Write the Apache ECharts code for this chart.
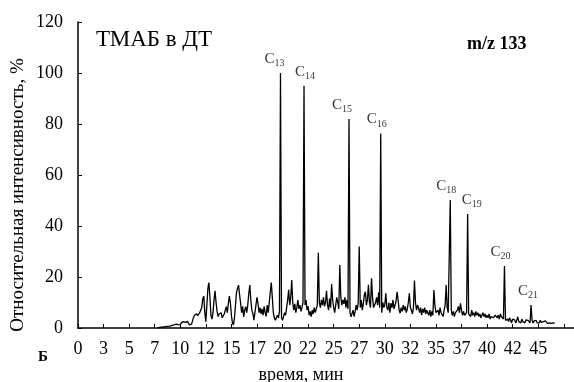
<!DOCTYPE html>
<html>
<head>
<meta charset="utf-8">
<script src="https://cdn.jsdelivr.net/npm/echarts@6/dist/echarts.min.js"></script>
<style>
html,body{margin:0;padding:0;background:#fff;}
#chart{width:574px;height:382px;}
</style>
</head>
<body>
<div id="chart"></div>
<script>
// Sampling grid of the chromatogram (minutes)
const startTime = 7.8;
const timeStep = 0.1;
// Relative intensity, % (one row per minute)
const intensity = [
  0, 0.1,
  0.2, 0.1, 0.3, 0.2, 0.4, 0.3, 0.5, 0.3, 0.6, 0.4,          // 8
  0.7, 0.5, 1.0, 0.6, 1.2, 0.8, 1.5, 0.9, 1.3, 1.8,          // 9
  1.2, 2.0, 1.5, 2.5, 2.9, 2.2, 1.8, 2.6, 1.9, 1.2,          // 10
  0.8, 1.5, 2.8, 4.2, 5.0, 4.4, 5.6, 4.8, 5.2, 6.0,          // 11
  5.5, 8.0, 11.5, 12.5, 6.0, 2.5, 9.0, 15.5, 17.8, 12.0,     // 12
  5.0, 3.5, 6.0, 11.0, 14.6, 10.0, 6.5, 4.5, 5.5, 4.8,       // 13
  6.0, 4.0, 3.8, 5.5, 7.0, 8.4, 6.0, 9.5, 12.5, 10.0,        // 14
  5.0, 2.0, 1.2, 4.0, 9.0, 14.0, 15.6, 16.8, 13.0, 9.7,      // 15
  6.0, 8.5, 4.4, 7.0, 8.4, 6.0, 9.0, 13.5, 16.8, 11.0,       // 16
  7.0, 5.7, 3.1, 6.0, 9.0, 12.0, 9.7, 6.0, 8.0, 5.5,         // 17
  7.5, 5.0, 8.5, 6.0, 4.5, 9.0, 6.0, 10.0, 14.0, 17.8,       // 18
  12.0, 6.0, 4.0, 3.0, 3.5, 5.0, 4.0, 6.5, 100, 4.0,         // 19
  3.0, 4.5, 6.0, 5.0, 8.0, 11.0, 15.0, 9.0, 12.0, 18.8,      // 20
  10.0, 7.0, 9.5, 6.0, 8.0, 11.0, 7.5, 9.0, 6.5, 8.0,        // 21
  10.0, 95, 9.0, 11.0, 7.0, 8.5, 5.0, 6.5, 4.5, 7.0,         // 22
  5.5, 8.0, 6.0, 7.5, 9.0, 29.5, 10.0, 8.0, 11.0, 9.0,       // 23
  12.0, 8.5, 10.0, 14.6, 9.0, 7.0, 11.5, 8.0, 17.2, 11.0,    // 24
  8.0, 6.0, 9.0, 12.0, 10.0, 7.5, 24.7, 12.0, 9.0, 11.0,     // 25
  9.5, 12.0, 8.0, 11.0, 7.5, 82, 6.0, 4.4, 5.0, 7.0,         // 26
  4.5, 6.5, 9.0, 7.0, 10.0, 32.0, 8.0, 11.0, 7.0, 9.5,       // 27
  13.0, 14.2, 9.0, 11.0, 16.9, 10.0, 8.0, 19.5, 12.0, 8.0,   // 28
  7.8, 10.0, 12.0, 9.0, 14.0, 8.0, 76.3, 6.0, 10.0, 8.0,     // 29
  9.0, 13.6, 8.0, 7.0, 10.0, 6.0, 9.7, 8.0, 11.0, 7.5,       // 30
  9.0, 10.5, 14.2, 11.0, 7.0, 5.8, 8.0, 6.5, 9.0, 7.0,       // 31
  8.5, 6.0, 7.5, 10.0, 13.6, 8.0, 7.0, 5.5, 8.0, 18.6,       // 32
  10.0, 7.0, 9.0, 7.8, 6.0, 8.0, 5.0, 7.5, 6.0, 8.0,         // 33
  5.5, 7.0, 6.0, 5.0, 7.0, 4.5, 6.5, 5.0, 14.9, 9.0,         // 34
  6.0, 5.5, 7.0, 5.0, 8.0, 6.0, 6.5, 4.5, 7.0, 9.0,          // 35
  16.9, 8.0, 6.0, 5.5, 50.2, 7.0, 5.0, 6.5, 4.5, 6.0,        // 36
  5.5, 7.0, 8.5, 6.0, 9.7, 7.0, 5.0, 6.5, 5.0, 4.5,          // 37
  6.0, 44.7, 5.5, 6.0, 4.5, 7.0, 5.0, 6.0, 4.5, 6.5,         // 38
  5.0, 6.0, 4.5, 5.5, 4.0, 5.0, 6.0, 4.5, 5.5, 4.0,          // 39
  5.0, 4.0, 5.5, 3.5, 4.5, 5.0, 4.0, 3.5, 5.0, 4.5,          // 40
  4.0, 5.0, 3.5, 5.5, 4.5, 4.0, 3.5, 24.3, 3.0, 2.5,         // 41
  3.5, 2.5, 4.0, 3.0, 2.0, 3.5, 2.8, 3.2, 2.0, 3.0,          // 42
  4.4, 2.5, 3.0, 2.0, 3.5, 2.5, 3.0, 2.0, 3.2, 2.5,          // 43
  3.0, 2.5, 2.0, 9.0, 3.0, 2.0, 2.8, 2.2, 3.0, 2.0,          // 44
  2.5, 2.0, 3.0, 2.2, 1.8, 2.5, 2.0, 2.8, 2.2, 1.8,          // 45
  2.5, 2.0, 2.2, 1.8, 2.5, 2.0, 1.8                          // 46
];
// Labelled peaks: name subscript and retention time (min)
const peakNames = ['13', '14', '15', '16', '18', '19', '20', '21'];
const peakTimes = [19.8, 22.1, 26.5, 29.6, 36.4, 38.1, 41.7, 44.3];
// Axis tick labels (every 2.5 min)
const xTickLabels = ['0', '3', '5', '7', '10', '12', '15', '17', '20', '22', '25', '27', '30', '32', '35', '37', '40', '42', '45', ''];
const yTicks = [0, 20, 40, 60, 80, 100, 120];

const FONT = '"Liberation Serif", "Times New Roman", serif';

const lineData = intensity.map((v, i) => [+(startTime + i * timeStep).toFixed(2), v]);
function valueAt(t) {
  const i = Math.round((t - startTime) / timeStep);
  return intensity[i];
}
const labelOffsets = [[-6, 0], [1, 0], [-7, 0], [-4, 0], [-4, 0], [4, 0], [-4, 0], [-3, 0]];
const peakData = peakTimes.map((t, i) => ({
  value: [t, valueAt(t)],
  label: { formatter: '{c|C}{s|' + peakNames[i] + '}', offset: labelOffsets[i] }
}));

const chart = echarts.init(document.getElementById('chart'), null, { renderer: 'canvas' });
chart.setOption({
  animation: false,
  backgroundColor: '#fff',
  grid: { left: 78, right: 0, top: 22, bottom: 54, containLabel: false },
  xAxis: {
    type: 'value', min: 0, max: 48.5, interval: 2.5,
    axisLine: { lineStyle: { color: '#000', width: 1.5 } },
    axisTick: { inside: true, length: 4, lineStyle: { color: '#000', width: 1 } },
    axisLabel: {
      margin: 12, color: '#000', fontFamily: FONT, fontSize: 18,
      formatter: (v) => { const k = Math.round(v / 2.5); return xTickLabels[k] !== undefined ? xTickLabels[k] : ''; },
      showMaxLabel: false
    },
    splitLine: { show: false }
  },
  yAxis: {
    type: 'value', min: yTicks[0], max: yTicks[yTicks.length - 1], interval: 20,
    axisLine: { show: true, lineStyle: { color: '#000', width: 1.5 } },
    axisTick: { show: true, inside: true, length: 4, lineStyle: { color: '#000', width: 1 } },
    axisLabel: { margin: 15, color: '#000', fontFamily: FONT, fontSize: 18 },
    splitLine: { show: false }
  },
  series: [
    {
      type: 'line', data: lineData, showSymbol: false, symbol: 'none',
      lineStyle: { color: '#000', width: 1.3 }, z: 2
    },
    {
      type: 'scatter', data: peakData, symbolSize: 0, z: 3,
      label: {
        show: true, position: 'top', distance: 6,
        rich: {
          c: { fontFamily: FONT, fontSize: 15, color: '#000', lineHeight: 16 },
          s: { fontFamily: FONT, fontSize: 10, color: '#000', lineHeight: 16, padding: [9, 0, 0, 0] }
        }
      }
    }
  ],
  graphic: [
    { type: 'text', left: 96, top: 28, style: { text: 'ТМАБ в ДТ', fontFamily: FONT, fontSize: 23, fill: '#000' } },
    { type: 'text', left: 467, top: 35, style: { text: 'm/z 133', fontFamily: FONT, fontSize: 18, fontWeight: 'bold', fill: '#000' } },
    { type: 'text', x: 18, y: 195, rotation: Math.PI / 2,
      style: { text: 'Относительная интенсивность, %', fontFamily: FONT, fontSize: 19, fill: '#000', align: 'center', verticalAlign: 'middle' } },
    { type: 'text', x: 301, y: 375, style: { text: 'время, мин', fontFamily: FONT, fontSize: 18, fill: '#000', align: 'center', verticalAlign: 'middle' } },
    { type: 'text', x: 43, y: 357, style: { text: 'Б', fontFamily: FONT, fontSize: 15, fontWeight: 'bold', fill: '#000', align: 'center', verticalAlign: 'middle' } }
  ]
});
</script>
</body>
</html>
